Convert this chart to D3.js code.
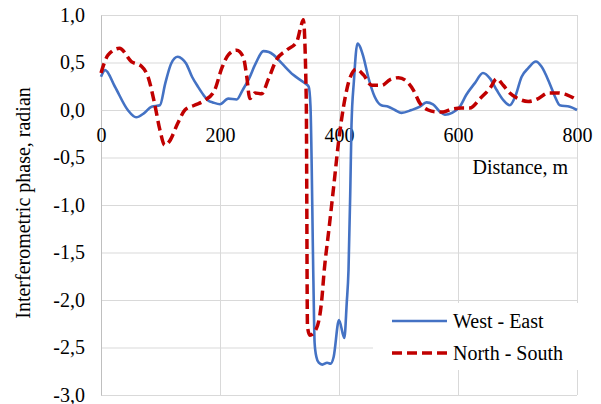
<!DOCTYPE html>
<html>
<head>
<meta charset="utf-8">
<script src="https://cdn.jsdelivr.net/npm/d3@7"></script>
<style>
  html, body { margin: 0; padding: 0; background: #fff; }
  svg { display: block; }
  text { font-family: "Liberation Serif", "Times New Roman", serif; fill: #000; }
</style>
</head>
<body>
<svg id="chart" width="601" height="404"></svg>
<script>
// ---- data ----
const weDistance = [0,7,23,45,59,72,85,99,108,118,129,136,143,153,163,172,180,188,200,214,228,238,248,260,273,282,290,304,323,343,349,352,357,359,362,366,372,380,386,391,400,409,413,416,419,421,425,431,441,449,460,471,483,494,505,522,536,547,558,570,578,590,603,614,628,642,654,665,676,687,696,707,718,731,740,754,763,771,788,800];
const westEast   = [0.35,0.42,0.25,0.0,-0.077,-0.035,0.035,0.05,0.28,0.49,0.56,0.54,0.49,0.35,0.245,0.16,0.10,0.08,0.06,0.12,0.11,0.21,0.32,0.49,0.62,0.61,0.58,0.49,0.37,0.28,0.245,0.05,-1.8,-2.45,-2.6,-2.66,-2.68,-2.66,-2.67,-2.6,-2.21,-2.40,-2.03,-1.68,-0.84,-0.16,0.3,0.70,0.56,0.35,0.14,0.05,0.035,0.0,-0.03,0.0,0.035,0.08,0.06,-0.02,-0.05,-0.03,0.035,0.16,0.28,0.39,0.33,0.21,0.105,0.05,0.14,0.35,0.44,0.51,0.46,0.28,0.14,0.05,0.035,0.0];

const nsDistance = [0,12,31,51,68,79,90,99,107,115,129,141,157,174,191,203,214,228,239,245,250,259,270,281,295,312,329,336,340,345,347,351,362,371,375,383,391,399,410,418,429,441,455,472,486,500,514,525,536,550,564,575,590,606,620,637,654,665,676,687,701,718,735,752,766,783,800];
const northSouth = [0.39,0.58,0.65,0.51,0.46,0.35,0.07,-0.21,-0.37,-0.33,-0.14,0.0,0.05,0.10,0.21,0.44,0.58,0.63,0.56,0.35,0.12,0.18,0.17,0.32,0.53,0.63,0.72,0.88,0.95,0.1,-2.28,-2.37,-2.30,-2.0,-1.70,-1.26,-0.81,-0.35,0.12,0.33,0.43,0.37,0.26,0.26,0.32,0.34,0.30,0.21,0.07,0.0,-0.02,-0.02,0.01,0.02,0.02,0.12,0.23,0.33,0.26,0.18,0.12,0.09,0.12,0.18,0.18,0.16,0.105];

const xTicks = [0,200,400,600,800];
const yTicks = [-3,-2.5,-2,-1.5,-1,-0.5,0,0.5,1];
const seriesNames = ["West - East", "North - South"];
const xTitle = "Distance, m";
const yTitle = "Interferometric phase, radian";

// ---- layout ----
const svg = d3.select("#chart");
const x = d3.scaleLinear().domain([0,800]).range([101,577]);
const y = d3.scaleLinear().domain([-3,1]).range([395,15]);
const fmt = d3.formatLocale({decimal:",", thousands:" ", grouping:[3], currency:["",""], minus:"-"}).format(".1f");
const fs = 20;

// horizontal grid
svg.append("g")
  .attr("transform", `translate(${x(0)},0)`)
  .call(d3.axisLeft(y).tickValues(yTicks).tickSize(-(x(800)-x(0))).tickFormat(""))
  .call(g => g.select(".domain").remove())
  .call(g => g.selectAll("line").attr("stroke", "#d9d9d9").attr("stroke-width", 1));

// vertical grid
svg.append("g")
  .attr("transform", `translate(0,${y(-3)})`)
  .call(d3.axisBottom(x).tickValues(xTicks.filter(d => d > 0)).tickSize(-(y(-3)-y(1))).tickFormat(""))
  .call(g => g.select(".domain").remove())
  .call(g => g.selectAll("line").attr("stroke", "#d9d9d9").attr("stroke-width", 1));

// left axis line + labels
const yAxis = svg.append("g")
  .attr("transform", `translate(${x(0)},0)`)
  .call(d3.axisLeft(y).tickValues(yTicks).tickSize(0).tickPadding(16).tickFormat(fmt));
yAxis.select(".domain").attr("stroke", "#bfbfbf");
yAxis.selectAll("text").style("font-size", fs + "px").attr("font-family", null);

// x axis at y = 0
const xAxis = svg.append("g")
  .attr("transform", `translate(0,${y(0)})`)
  .call(d3.axisBottom(x).tickValues(xTicks).tickSize(0).tickPadding(18).tickFormat(d3.format("d")));
xAxis.select(".domain").attr("stroke", "#d9d9d9");
xAxis.selectAll("text").style("font-size", fs + "px").attr("font-family", null);

// lines
const lineGen = d3.line().x(d => x(d[0])).y(d => y(d[1])).curve(d3.curveMonotoneX);
const weData = weDistance.map((d,i) => [d, westEast[i]]);
const nsData = nsDistance.map((d,i) => [d, northSouth[i]]);

svg.append("path").datum(weData)
  .attr("d", lineGen).attr("fill", "none")
  .attr("stroke", "#4472C4").attr("stroke-width", 2.6).attr("stroke-linejoin", "round");

svg.append("path").datum(nsData)
  .attr("d", lineGen).attr("fill", "none")
  .attr("stroke", "#C00000").attr("stroke-width", 3.5)
  .attr("stroke-dasharray", "10,5").attr("stroke-linejoin", "round");

// axis titles
svg.append("text")
  .attr("x", 568).attr("y", 174)
  .attr("text-anchor", "end")
  .style("font-size", fs + "px")
  .text(xTitle);

svg.append("text")
  .attr("transform", `translate(30,203) rotate(-90)`)
  .attr("text-anchor", "middle")
  .style("font-size", fs + "px")
  .text(yTitle);

// legend
const lg = svg.append("g");
lg.append("rect").attr("x", 373).attr("y", 303).attr("width", 208).attr("height", 67).attr("fill", "#fff");
const legendItems = [
  {name: seriesNames[0], color: "#4472C4", width: 2.6, dash: null, cy: 321},
  {name: seriesNames[1], color: "#C00000", width: 3.5, dash: "10,5", cy: 353}
];
legendItems.forEach(it => {
  lg.append("line").attr("x1", 392).attr("x2", 447).attr("y1", it.cy).attr("y2", it.cy)
    .attr("stroke", it.color).attr("stroke-width", it.width)
    .attr("stroke-dasharray", it.dash);
  lg.append("text").attr("x", 453).attr("y", it.cy + 7)
    .style("font-size", fs + "px").text(it.name);
});
</script>
</body>
</html>
